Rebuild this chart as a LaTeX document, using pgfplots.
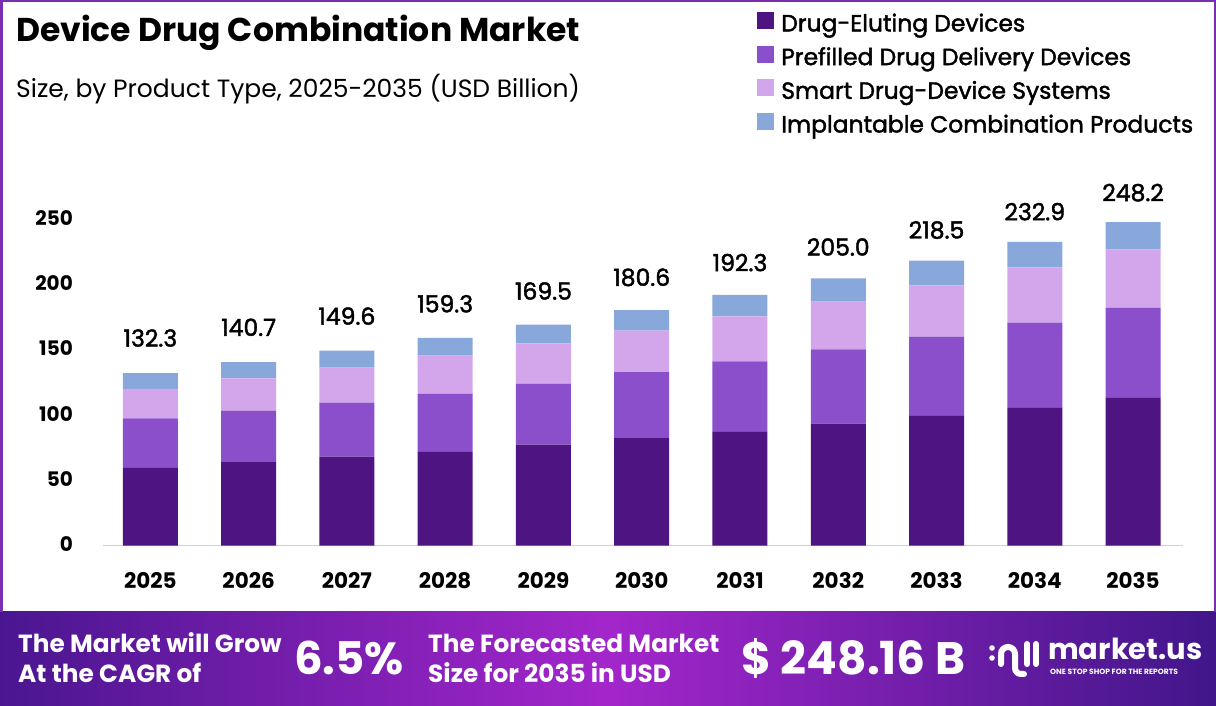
\documentclass[border=0pt]{standalone}
\usepackage{pgfplots}
\pgfplotsset{compat=1.18}
\usepackage{pgfplotstable}
\usepackage{fontspec}
\setmainfont{Poppins}
\newfontfamily\popmed[FakeBold=1.8]{Poppins}
\definecolor{cDark}{HTML}{4E1582}
\definecolor{cPurple}{HTML}{8B4FCC}
\definecolor{cPink}{HTML}{D3A6EB}
\definecolor{cBlue}{HTML}{88A8DC}
\definecolor{cBorder}{HTML}{7A2FB0}
\definecolor{bLeft}{HTML}{4A1690}
\definecolor{bMid}{HTML}{A326CB}
\definecolor{bRight}{HTML}{41168A}

\pgfplotstableread{
x year dark purple pink blue total
0 2025 60.0 37.5 22.7 12.1 132.3
1 2026 64.0 39.6 24.6 12.5 140.7
2 2027 68.3 41.4 26.8 13.1 149.6
3 2028 72.3 44.3 29.1 13.6 159.3
4 2029 77.5 46.7 30.9 14.4 169.5
5 2030 82.4 50.6 31.9 15.7 180.6
6 2031 87.7 53.7 34.5 16.4 192.3
7 2032 93.6 57.0 36.5 17.9 205.0
8 2033 99.9 60.4 39.3 18.9 218.5
9 2034 106.0 65.0 42.4 19.5 232.9
10 2035 113.7 68.8 44.7 21.0 248.2
}\datatable

\begin{document}
\begin{tikzpicture}[x=1pt,y=1pt]
\useasboundingbox (0,0) rectangle (1216,706);
\fill[white] (0,0) rectangle (1216,706);
% banner
\shade[left color=bLeft, right color=bRight, middle color=bMid] (0,0) rectangle (1216,94);
% border
\draw[cBorder, line width=2.5pt] (1.25,94) -- (1.25,704.75) -- (1214.75,704.75) -- (1214.75,94);

% title
\node[anchor=west, font=\fontsize{33}{38}\selectfont\bfseries, inner sep=0] at (16,673) {Device Drug Combination Market};
\node[anchor=west, font=\fontsize{25}{30}\selectfont, inner sep=0] at (16,617) {Size, by Product Type, 2025-2035 (USD Billion)};

\begin{axis}[
  at={(153,123)}, anchor=origin,
  scale only axis, width=1080pt, height=339pt,
  ybar stacked, bar width=55pt,
  xmin=-0.48, xmax=10.51, ymin=0, ymax=260,
  axis x line=bottom, axis y line=none,
  x axis line style={draw=black!18, line width=1.2pt, -},
  xtick=data, xticklabels={2025,2026,2027,2028,2029,2030,2031,2032,2033,2034,2035},
  ytick={0,50,100,150,200,250},
  major tick length=0pt,
  xticklabel style={font=\fontsize{21.5}{24}\selectfont\bfseries, yshift=-23pt},
  /pgf/number format/assume math mode=true,
  legend cell align=left,
  legend style={draw=none, fill=none, at={(0.6055,1.575)}, anchor=north west, inner sep=0pt,
    font=\fontsize{23.4}{26}\popmed, row sep=8.2pt,
    nodes={inner sep=0pt, text height=17pt, text depth=6pt},
    /tikz/every odd column/.append style={column sep=7pt}},
  legend image code/.code={\fill[#1] (0pt,-3pt) rectangle (17pt,14pt);},
  clip=false,
]
\addplot[fill=cDark, draw=none] table[x=x, y=dark] {\datatable};
\addplot[fill=cPurple, draw=none] table[x=x, y=purple] {\datatable};
\addplot[fill=cPink, draw=none] table[x=x, y=pink] {\datatable};
\addplot[fill=cBlue, draw=none,
  point meta=explicit symbolic,
  nodes near coords={\pgfplotspointmeta},
  every node near coord/.style={anchor=center, yshift=43pt, font=\fontsize{23.5}{26}\popmed, text=black}
  ] table[x=x, y=blue, meta=total] {\datatable};
\legend{Drug-Eluting Devices, Prefilled Drug Delivery Devices, Smart Drug-Device Systems, Implantable Combination Products}
\end{axis}
% y tick labels
\foreach \v in {0,50,100,150,200,250} {
  \node[anchor=east, font=\fontsize{20}{24}\selectfont\bfseries, inner sep=0] at (73, 162+\v*1.304) {\v};
}

% banner texts
\node[anchor=west, align=left, text=white, font=\fontsize{24.8}{30}\selectfont\bfseries, inner sep=0] at (18,48) {The Market will Grow\\At the CAGR of};
\node[anchor=west, text=white, font=\fontsize{45}{50}\selectfont\bfseries, inner sep=0] at (294,48) {6.5\%};
\node[anchor=west, align=left, text=white, font=\fontsize{24.8}{30}\selectfont\bfseries, inner sep=0] at (428,48) {The Forecasted Market\\Size for 2035 in USD};
\node[anchor=west, text=white, font=\fontsize{45.5}{50}\selectfont\bfseries, inner sep=0] at (741,48) {\$ 248.16 B};
% logo
\begin{scope}[white, line width=6pt, line cap=round]
\fill (992,48) circle (2.8pt);
\fill (992,58) circle (2.8pt);
\draw (1001,42) -- (1001,52) arc (180:0:7) -- (1015,38) arc (180:270:6) -- (1024,32);
\draw (1027,42) -- (1027,62);
\draw (1036,42) -- (1036,62);
\end{scope}
\node[anchor=west, text=white, font=\fontsize{29}{32}\selectfont\bfseries, inner sep=0] at (1048,57) {market.us};
\node[anchor=west, text=white, font=\fontsize{7.6}{8}\selectfont\bfseries, inner sep=0] at (1050,34) {ONE STOP SHOP FOR THE REPORTS};
\end{tikzpicture}
\end{document}
